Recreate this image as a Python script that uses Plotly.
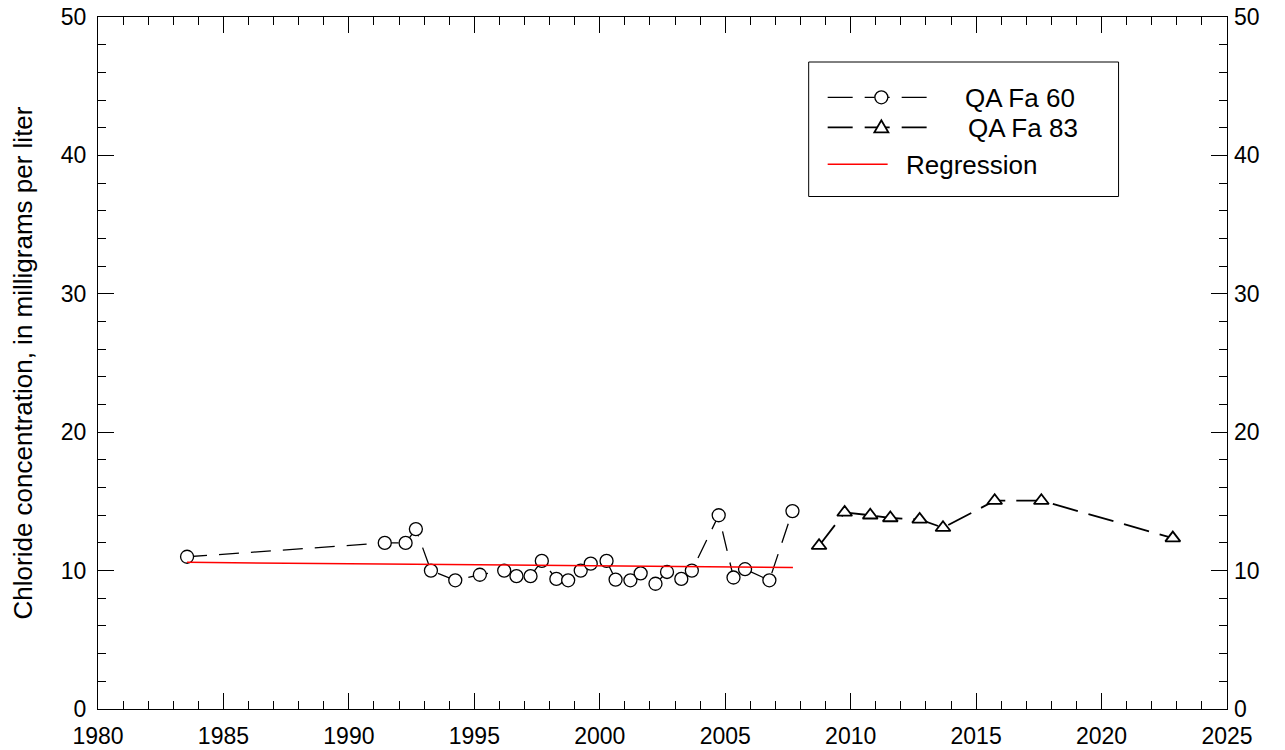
import plotly.graph_objects as go

# QA Fa 60 (circles)
fa60_year = [1983.55, 1991.43, 1992.26, 1992.67, 1993.27, 1994.24, 1995.22, 1996.19, 1996.68, 1997.24,
             1997.69, 1998.27, 1998.74, 1999.24, 1999.64, 2000.27, 2000.63, 2001.22, 2001.63, 2002.22,
             2002.68, 2003.25, 2003.67, 2004.74, 2005.33, 2005.79, 2006.76, 2007.68]
fa60_cl = [11.0, 12.0, 12.0, 13.0, 10.0, 9.3, 9.7, 10.0, 9.6, 9.6,
           10.7, 9.4, 9.3, 10.0, 10.5, 10.7, 9.35, 9.3, 9.8, 9.05,
           9.9, 9.4, 10.0, 14.0, 9.5, 10.1, 9.3, 14.3]

# QA Fa 83 (triangles)
fa83_year = [2008.74, 2009.76, 2010.78, 2011.58, 2012.75, 2013.68, 2015.74, 2017.6, 2022.84]
fa83_cl = [11.8, 14.2, 14.0, 13.8, 13.7, 13.1, 15.05, 15.05, 12.35]

# Regression line end points
reg_year = [1983.55, 2007.7]
reg_cl = [10.6, 10.22]

x_ticks = [1980, 1985, 1990, 1995, 2000, 2005, 2010, 2015, 2020, 2025]
y_ticks = [0, 10, 20, 30, 40, 50]

legend_names = ["QA Fa 60", "QA Fa 83", "Regression"]

FONT = "Arial, Liberation Sans, sans-serif"

# plot-area geometry in screen pixels (for the hand-built legend box)
L, R, T, B = 98, 1227.5, 17, 709


def px(x):
    return (x - L) / (R - L)


def py(y):
    return (B - y) / (B - T)


fig = go.Figure()
fig.add_trace(go.Scatter(
    x=fa60_year, y=fa60_cl, name=legend_names[0], mode="lines+markers", showlegend=False,
    line=dict(color="black", width=1.3, dash="20px,12px"),
    marker=dict(symbol="circle", size=13, color="white", line=dict(color="black", width=1.3)),
))
fig.add_trace(go.Scatter(
    x=fa83_year, y=fa83_cl, name=legend_names[1], mode="lines+markers", showlegend=False,
    line=dict(color="black", width=1.8, dash="26px,11px"),
    marker=dict(symbol="triangle-up", size=13, color="white", line=dict(color="black", width=1.8)),
))
fig.add_trace(go.Scatter(
    x=reg_year, y=reg_cl, name=legend_names[2], mode="lines", showlegend=False,
    line=dict(color="red", width=1.5),
))
# invisible trace to carry the right-hand axis
fig.add_trace(go.Scatter(x=[None], y=[None], yaxis="y2", showlegend=False, hoverinfo="skip"))

axis_common = dict(
    showgrid=False, zeroline=False, showline=True, linecolor="black", linewidth=1,
    ticks="inside", ticklen=16, tickwidth=1, tickcolor="black", automargin=False,
    ticklabeloverflow="allow",
    tickfont=dict(family=FONT, size=23, color="black"),
)

# ---- hand-built legend (box, sample lines, symbols, labels) ----
shapes = []
annotations = []
shapes.append(dict(type="rect", xref="paper", yref="paper",
                   x0=px(809), x1=px(1119), y0=py(62), y1=py(196.5),
                   line=dict(color="black", width=1), fillcolor="white", layer="above"))
rows = [(97.3, "black", 1.3, "25px,12px", "circle", 963),
        (127.3, "black", 1.8, "25px,12px", "triangle", 966),
        (164.3, "red", 1.5, "solid", None, 904)]
for (yy, col, w, dash, sym, tx), name in zip(rows, legend_names):
    x_end = 927 if sym else 888
    shapes.append(dict(type="line", xref="paper", yref="paper",
                       x0=px(828), x1=px(x_end), y0=py(yy), y1=py(yy),
                       line=dict(color=col, width=w, dash=dash), layer="above"))
    if sym == "circle":
        r = 6.5
        shapes.append(dict(type="circle", xref="paper", yref="paper",
                           x0=px(881.7 - r), x1=px(881.7 + r), y0=py(yy + r), y1=py(yy - r),
                           line=dict(color="black", width=1.3), fillcolor="white", layer="above"))
    elif sym == "triangle":
        cx = 881.7
        path = (f"M {px(cx - 7)} {py(yy + 5)} L {px(cx + 7)} {py(yy + 5)} "
                f"L {px(cx)} {py(yy - 7)} Z")
        shapes.append(dict(type="path", xref="paper", yref="paper", path=path,
                           line=dict(color="black", width=1.8), fillcolor="white", layer="above"))
    annotations.append(dict(xref="paper", yref="paper", x=px(tx), y=py(yy + 1),
                            xanchor="left", yanchor="middle", showarrow=False, text=name,
                            font=dict(family=FONT, size=26, color="black")))

fig.update_layout(
    width=1285, height=750,
    paper_bgcolor="white", plot_bgcolor="white",
    margin=dict(l=L, r=1285 - R, t=T, b=750 - B, autoexpand=False),
    font=dict(family=FONT, color="black"),
    xaxis=dict(range=[1980, 2025], tickvals=x_ticks, mirror="ticks", ticklabelstandoff=6,
               minor=dict(dtick=1, ticks="inside", ticklen=8, tickcolor="black"),
               **axis_common),
    yaxis=dict(range=[0, 50], tickvals=y_ticks, mirror="ticks", ticklabelstandoff=6,
               minor=dict(dtick=2, ticks="inside", ticklen=8, tickcolor="black"),
               title=dict(text="Chloride concentration, in milligrams per liter",
                          font=dict(family=FONT, size=26, color="black"), standoff=20),
               **axis_common),
    yaxis2=dict(range=[0, 50], tickvals=y_ticks, overlaying="y", side="right", automargin=False,
                showgrid=False, zeroline=False, showline=False, ticks="", ticklabelstandoff=6,
                ticklabeloverflow="allow",
                tickfont=dict(family=FONT, size=23, color="black")),
    shapes=shapes,
    annotations=annotations,
    showlegend=False,
)

# remove the browser's default 8px body margin so the figure fills the window exactly
fig.write_html("out.html", config={"displayModeBar": False},
               post_script="document.body.style.margin='0';")
